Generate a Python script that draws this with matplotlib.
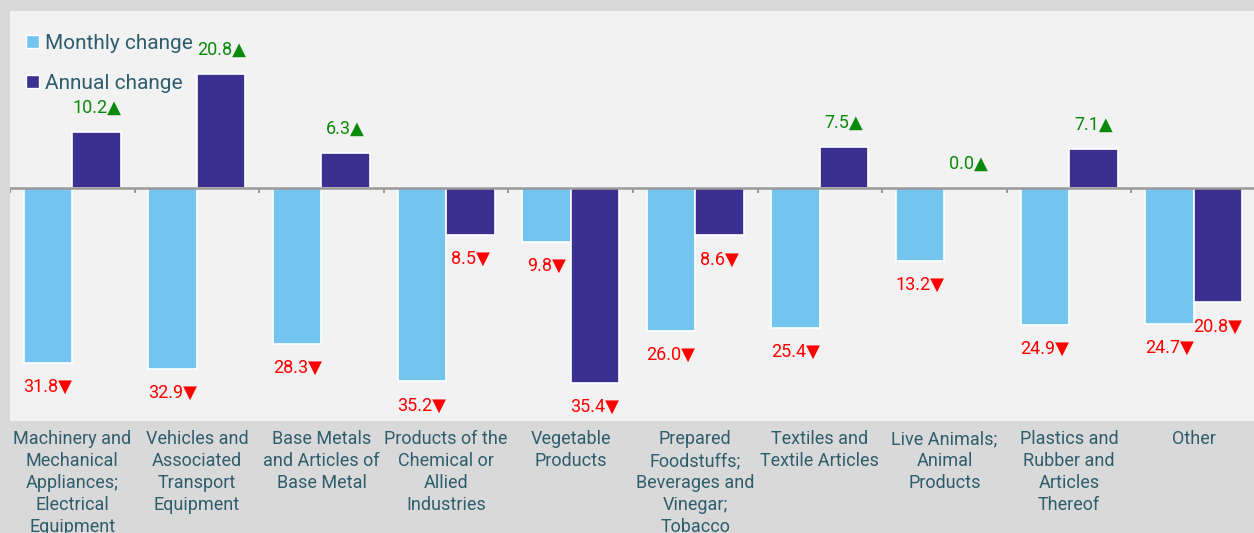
#!/usr/bin/env python3
"""Grouped bar chart: monthly vs annual change by section."""

import matplotlib
matplotlib.use("Agg")
import matplotlib.pyplot as plt
import numpy as np
from matplotlib.patches import Patch
from matplotlib import font_manager

CATEGORIES = [
    "Machinery and\nMechanical\nAppliances;\nElectrical\nEquipment",
    "Vehicles and\nAssociated\nTransport\nEquipment",
    "Base Metals\nand Articles of\nBase Metal",
    "Products of the\nChemical or\nAllied\nIndustries",
    "Vegetable\nProducts",
    "Prepared\nFoodstuffs;\nBeverages and\nVinegar;\nTobacco",
    "Textiles and\nTextile Articles",
    "Live Animals;\nAnimal\nProducts",
    "Plastics and\nRubber and\nArticles\nThereof",
    "Other",
]
MONTHLY = [-31.8, -32.9, -28.3, -35.2, -9.8, -26.0, -25.4, -13.2, -24.9, -24.7]
ANNUAL = [10.2, 20.8, 6.3, -8.5, -35.4, -8.6, 7.5, 0.0, 7.1, -20.8]

C_MONTH = "#73C5F0"
C_YEAR = "#3B2F8F"
C_TEXT = "#2E5D6B"
C_UP = "#0A8A0A"
C_DOWN = "#FF0000"

installed = {f.name for f in font_manager.fontManager.ttflist}
narrow = "Liberation Sans Narrow" if "Liberation Sans Narrow" in installed else "Roboto"
FAMILY = [narrow, "DejaVu Sans"]
plt.rcParams["font.family"] = FAMILY

W, H = 1254, 533
fig = plt.figure(figsize=(W / 100, H / 100), dpi=100, facecolor="#D9D9D9")
ax = fig.add_axes([10 / W, (H - 421) / H, 1244 / W, 410 / H])
ax.set_facecolor("#F2F2F2")

x = np.arange(len(CATEGORIES))
bw = 0.39
off = 0.195
ax.bar(x - off, MONTHLY, bw, color=C_MONTH, edgecolor="white", linewidth=1.2, zorder=2)
ax.bar(x + off, ANNUAL, bw, color=C_YEAR, edgecolor="white", linewidth=1.2, zorder=2)

ax.set_xlim(-0.5, 9.484)
ax.set_ylim(-42.4, 32.2)

# zero line with boundary ticks hanging below
ax.axhline(0, color="#999999", linewidth=1.8, zorder=3)
ax.vlines(np.arange(len(CATEGORIES)) - 0.5, -1.0, 0, color="#999999", linewidth=1.5, zorder=3)

def label(xpos, v):
    up = v >= 0
    txt = f"{abs(v):.1f}" + ("▲" if up else "▼")
    ypos = v + 4.4 if up else v - 4.4
    ax.text(xpos, ypos, txt, ha="center", va="center", fontsize=13,
            color=C_UP if up else C_DOWN, zorder=4)

for i in range(len(CATEGORIES)):
    label(x[i] - off, MONTHLY[i])
    label(x[i] + off, ANNUAL[i])

for sp in ax.spines.values():
    sp.set_visible(False)
ax.set_xticks([])
ax.set_yticks([])

# category labels below the panel
for i, cat in enumerate(CATEGORIES):
    ax.text(x[i], -0.022, cat, transform=ax.get_xaxis_transform(), ha="center", va="top",
            fontsize=13, color=C_TEXT, linespacing=1.28, clip_on=False)

handles = [Patch(facecolor=C_MONTH, edgecolor="white", label="Monthly change"),
           Patch(facecolor=C_YEAR, edgecolor="white", label="Annual change")]
ax.legend(handles=handles, loc="upper left", bbox_to_anchor=(-0.002, 0.99), frameon=False,
          fontsize=15, labelcolor=C_TEXT, handlelength=0.6, handleheight=0.6,
          handletextpad=0.3, labelspacing=1.0, borderaxespad=0.5)

fig.savefig("out.png", dpi=100, facecolor=fig.get_facecolor())
